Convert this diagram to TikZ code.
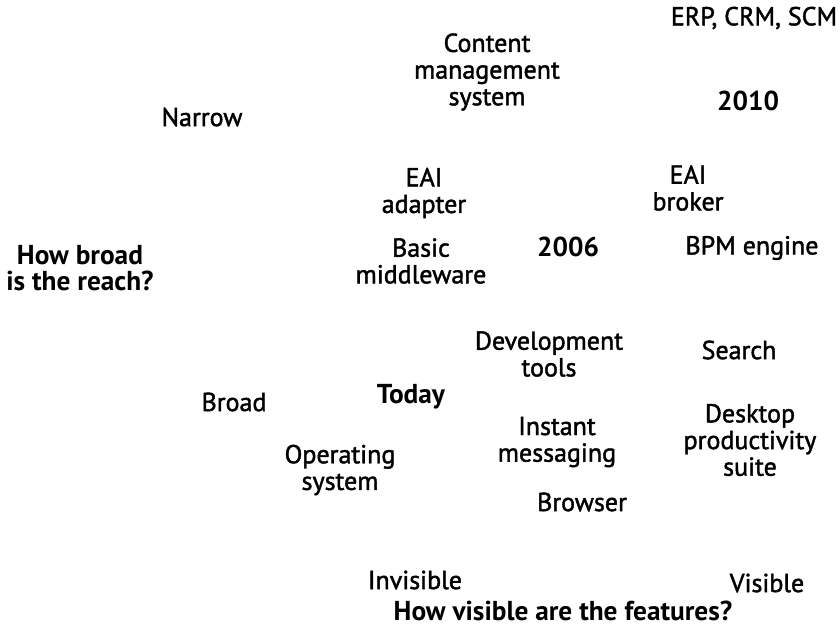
\documentclass[tikz,border=0pt]{standalone}
\usepackage{fontspec}
\setmainfont{PT Sans}
\newfontfamily\entryfont{PT Sans}[FakeBold=1.6]
\usepackage{tikz}
\tikzset{
  entry/.style={inner sep=0pt, align=center, font=\entryfont\fontsize{19.5}{20}\selectfont},
  mark entry/.style={inner sep=0pt, align=center, font=\fontsize{20.5}{20}\selectfont\bfseries}
}
\newcommand{\entry}[4]{\node[entry] (#1) at ( #2 , #3 ) {#4};}
\newcommand{\markentry}[4]{\node[mark entry] (#1) at ( #2 , #3 ) {#4};}

\begin{document}
\begin{tikzpicture}[x=0.75pt, y=-0.75pt]
        \useasboundingbox (0,0) rectangle (840,637);
        % top band
        \entry{erp}{754}{18}{ERP, CRM, SCM}
        \entry{cms}{487}{72}{Content\\management\\system}
        \markentry{y2010}{748}{101}{2010}
        \entry{narrow}{202}{117}{Narrow}
        % middle band
        \entry{eaiadapter}{424}{193}{EAI\\adapter}
        \entry{eaibroker}{688}{188}{EAI\\broker}
        \markentry{reach}{80}{268}{How broad\\is the reach?}
        \entry{middleware}{421}{261}{Basic\\middleware}
        \markentry{y2006}{568}{247}{2006}
        \entry{bpm}{752}{248}{BPM engine}
        % bottom band
        \entry{devtools}{549}{354}{Development\\tools}
        \entry{search}{739}{350}{Search}
        \entry{broad}{234}{402}{Broad}
        \markentry{today}{411}{397}{Today}
        \entry{im}{557}{442}{Instant\\messaging}
        \entry{desktop}{750}{440}{Desktop\\productivity\\suite}
        \entry{os}{340}{470}{Operating\\system}
        \entry{browser}{582}{502}{Browser}
        % horizontal axis
        \entry{invisible}{415}{580}{Invisible}
        \entry{visible}{767}{583}{Visible}
        \markentry{features}{563}{611}{How visible are the features?}
    \end{tikzpicture}
\end{document}
